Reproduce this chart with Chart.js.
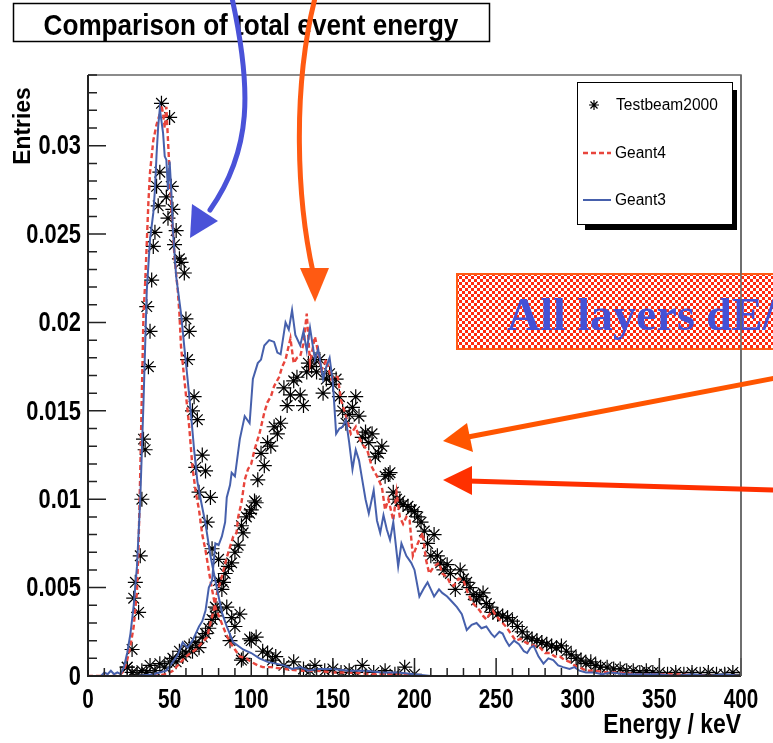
<!DOCTYPE html>
<html lang="en">
<head>
<meta charset="UTF-8">
<title>Comparison of total event energy</title>
<script src="https://cdn.jsdelivr.net/npm/chart.js"></script>
<style>
  html, body { margin: 0; padding: 0; background: #fff; }
  #wrap { position: relative; width: 773px; height: 743px; }
</style>
</head>
<body>
<div id="wrap"><canvas id="chart" width="773" height="743"></canvas></div>
<script>
  // [energy keV, entries]
  const testbeamNarrow = [
    [24,0.0005],[27,0.0015],[28,0.0044],[29,0.0053],[31,0.0036],[32,0.0068],[33,0.0100],[34,0.0134],[35,0.0128],
    [36,0.0209],[37,0.0175],[38,0.0195],[39,0.0224],[40,0.0243],[41,0.0251],[42,0.0277],[43,0.0266],[44,0.0285],
    [45,0.0324],[48,0.0271],[49,0.0259],[50,0.0316],[51,0.0277],[52,0.0264],[53,0.0244],[54,0.0252],[56,0.0236],
    [57,0.0234],[59,0.0228],[60,0.0202],[61,0.0179],[62,0.0195],[64,0.0150],[65,0.0158],[66,0.0118],[67,0.0145],
    [68,0.0104],[70,0.0125],[72,0.0116],[73,0.0087],[75,0.0101],[76,0.0072],[78,0.0039],[80,0.0066],[83,0.0053],
    [85,0.0039],[87,0.0020],[88,0.0033],[90,0.0028],[93,0.0035],[94,0.0009],[95,0.0010],[99,0.0021],[100,0.0020],
    [103,0.0022],[107,0.0014],[110,0.0013],[113,0.0009],[115,0.0011],[120,0.0006],[126,0.0008],[132,0.0004],
    [136,0.0003],[139,0.0006],[145,0.0003],[150,0.0004],[155,0.0002],[160,0.0003],[164,0.0002],[168,0.0006],
    [175,0.0002],[182,0.0003],[188,0.0001],[194,0.0005],[200,0.0001]
  ];
  const geant4Narrow = [
    [0,0],[18,0],[20,0.0001],[22,0.0003],[24,0.0009],[26,0.0017],[28,0.0028],[30,0.0048],[31,0.0075],[32,0.0115],
    [33,0.0160],[34,0.0205],[35,0.0222],[36,0.0245],[37,0.0268],[38,0.0285],[40,0.0303],[42,0.0312],[44,0.0318],
    [45,0.0323],[46,0.0318],[47,0.0310],[48,0.0322],[49,0.0303],[51,0.0266],[53,0.0237],[55,0.0218],[56,0.0205],
    [57,0.0186],[59,0.0168],[62,0.0141],[64,0.0118],[66,0.0104],[68,0.0094],[70,0.0080],[72,0.0071],[75,0.0054],
    [78,0.0039],[81,0.0032],[84,0.0025],[87,0.0019],[90,0.0015],[93,0.0011],[97,0.0010],[100,0.0008],[104,0.0006],
    [107,0.0005],[112,0.0005],[120,0.0004],[130,0.0003],[140,0.0003],[150,0.0002],[160,0.0002],[175,0.0001],
    [190,0.0001],[200,0]
  ];
  const geant3Narrow = [
    [0,0],[8,0],[10,0.0002],[12,0.0001],[14,0.0003],[16,0.0001],[18,0.0002],[20,0.0001],[22,0.0005],[24,0.0013],
    [26,0.0024],[28,0.0040],[30,0.0062],[32,0.0100],[34,0.0155],[36,0.0218],[38,0.0247],[40,0.0262],[41,0.0275],
    [42,0.0295],[43,0.0311],[44,0.0321],[46,0.0307],[47,0.0294],[48,0.0292],[49,0.0275],[50,0.0291],[51,0.0275],
    [52,0.0252],[54,0.0226],[57,0.0205],[59,0.0186],[61,0.0168],[63,0.0149],[65,0.0128],[67,0.0110],[69,0.0100],
    [72,0.0086],[75,0.0068],[78,0.0054],[82,0.0036],[85,0.0028],[89,0.0019],[95,0.0015],[100,0.0013],[105,0.0010],
    [110,0.0008],[115,0.0007],[120,0.0006],[125,0.0004],[130,0.0005],[135,0.0003],[140,0.0004],[150,0.0004],
    [160,0.0003],[170,0.0003],[180,0.0002],[190,0.0002],[200,0.0001],[210,0]
  ];

  const testbeamBroad = [
    [24,0.0005],[27,0.0002],[30,0.0001],[33,0.0003],[36,0.0002],[38,0.0006],[41,0.0003],[44,0.0007],[47,0.0005],
    [50,0.0008],[52,0.0010],[54,0.0008],[56,0.0014],[58,0.0011],[60,0.0013],[62,0.0017],[64,0.0014],[66,0.0019],
    [68,0.0016],[70,0.0022],[72,0.0024],[74,0.0027],[76,0.0032],[78,0.0034],[79,0.0038],[80,0.0054],[82,0.0049],
    [84,0.0058],[86,0.0062],[88,0.0064],[90,0.0070],[92,0.0074],[94,0.0085],[95,0.0081],[97,0.0090],[99,0.0092],
    [100,0.0094],[102,0.0099],[103,0.0098],[104,0.0111],[106,0.0126],[108,0.0119],[110,0.0132],[112,0.0130],
    [114,0.0141],[116,0.0137],[118,0.0143],[120,0.0163],[122,0.0153],[124,0.0159],[126,0.0167],[128,0.0169],
    [130,0.0159],[132,0.0153],[134,0.0172],[135,0.0177],[137,0.0175],[139,0.0179],[140,0.0172],[142,0.0179],
    [144,0.0160],[146,0.0168],[148,0.0171],[150,0.0165],[152,0.0168],[154,0.0158],[156,0.0150],[158,0.0143],
    [160,0.0148],[162,0.0152],[164,0.0158],[166,0.0147],[168,0.0135],[170,0.0138],[172,0.0132],[174,0.0137],
    [176,0.0124],[178,0.0126],[180,0.0130],[182,0.0113],[184,0.0114],[185,0.0115],[187,0.0104],[189,0.0100],
    [191,0.0099],[193,0.0097],[196,0.0096],[198,0.0094],[200,0.0093],[202,0.0090],[204,0.0087],[206,0.0082],
    [208,0.0075],[210,0.0068],[212,0.0080],[214,0.0068],[216,0.0064],[218,0.0060],[220,0.0063],[222,0.0058],
    [225,0.0049],[228,0.0060],[230,0.0055],[232,0.0053],[234,0.0050],[236,0.0046],[238,0.0043],[240,0.0045],
    [242,0.0047],[244,0.0041],[246,0.0039],[248,0.0036],[251,0.0035],[254,0.0034],[257,0.0033],[260,0.0031],
    [263,0.0028],[266,0.0025],[269,0.0022],[272,0.0021],[275,0.0020],[278,0.0019],[281,0.0018],[284,0.0017],
    [287,0.0016],[290,0.0017],[293,0.0014],[296,0.0012],[299,0.0010],[302,0.0009],[305,0.0007],[308,0.0008],
    [311,0.0006],[314,0.0005],[318,0.0005],[322,0.0004],[326,0.0004],[330,0.0003],[334,0.0003],[338,0.0002],
    [342,0.0003],[346,0.0002],[350,0.0002],[355,0.0001],[360,0.0002],[365,0.0001],[370,0.0002],[375,0.0001],
    [380,0.0002],[385,0.0001],[390,0.0001],[395,0.0002],[400,0.0001]
  ];
  const geant4Broad = [
    [40,0],[48,0.0001],[52,0.0003],[56,0.0007],[60,0.0011],[63,0.0013],[66,0.0015],[70,0.0019],[73,0.0022],
    [75,0.0030],[77,0.0037],[79,0.0047],[81,0.0053],[83,0.0060],[85,0.0067],[87,0.0073],[89,0.0079],[91,0.0081],
    [92,0.0090],[94,0.0098],[96,0.0111],[98,0.0117],[100,0.0120],[102,0.0128],[105,0.0137],[108,0.0149],
    [110,0.0155],[112,0.0158],[114,0.0164],[117,0.0169],[119,0.0175],[121,0.0179],[124,0.0191],[126,0.0177],
    [128,0.0180],[130,0.0181],[132,0.0188],[134,0.0205],[136,0.0177],[139,0.0192],[141,0.0183],[143,0.0173],
    [146,0.0179],[149,0.0168],[151,0.0170],[153,0.0169],[155,0.0156],[158,0.0147],[161,0.0137],[164,0.0141],
    [166,0.0135],[168,0.0131],[171,0.0128],[174,0.0118],[177,0.0113],[180,0.0107],[182,0.0094],[184,0.0100],
    [187,0.0088],[189,0.0104],[191,0.0090],[193,0.0086],[195,0.0090],[197,0.0088],[199,0.0068],[202,0.0075],
    [205,0.0081],[207,0.0066],[209,0.0058],[212,0.0062],[215,0.0064],[217,0.0058],[220,0.0056],[222,0.0052],
    [224,0.0051],[227,0.0055],[230,0.0054],[233,0.0046],[236,0.0041],[238,0.0039],[240,0.0037],[242,0.0034],
    [244,0.0032],[246,0.0035],[248,0.0037],[250,0.0034],[252,0.0032],[254,0.0030],[256,0.0028],[259,0.0024],
    [262,0.0020],[265,0.0021],[268,0.0019],[271,0.0018],[274,0.0017],[277,0.0016],[280,0.0013],[283,0.0013],
    [286,0.0011],[289,0.0011],[292,0.0009],[295,0.0008],[298,0.0006],[301,0.0005],[305,0.0003],[310,0.0003],
    [318,0.0002],[325,0.0002],[335,0.0001],[345,0.0001],[360,0.0001],[380,0],[400,0]
  ];
  const geant3Broad = [
    [30,0],[40,0.0001],[48,0.0003],[52,0.0008],[55,0.0012],[58,0.0019],[61,0.0016],[64,0.0020],[66,0.0024],
    [68,0.0028],[70,0.0031],[72,0.0037],[74,0.0050],[76,0.0054],[78,0.0075],[80,0.0074],[82,0.0079],[84,0.0087],
    [85,0.0101],[87,0.0108],[88,0.0115],[90,0.0113],[93,0.0134],[96,0.0147],[99,0.0143],[101,0.0168],[104,0.0177],
    [106,0.0179],[108,0.0187],[111,0.0190],[114,0.0189],[116,0.0183],[118,0.0182],[121,0.0200],[123,0.0196],
    [125,0.0207],[127,0.0193],[130,0.0187],[132,0.0195],[134,0.0184],[136,0.0197],[139,0.0179],[141,0.0185],
    [144,0.0168],[146,0.0175],[148,0.0180],[150,0.0166],[152,0.0137],[154,0.0140],[156,0.0141],[158,0.0145],
    [160,0.0132],[162,0.0117],[164,0.0128],[166,0.0122],[168,0.0111],[170,0.0100],[172,0.0092],[175,0.0105],
    [177,0.0088],[179,0.0081],[181,0.0091],[183,0.0083],[185,0.0077],[187,0.0087],[190,0.0062],[192,0.0075],
    [195,0.0068],[198,0.0064],[200,0.0060],[203,0.0045],[206,0.0050],[208,0.0053],[210,0.0049],[212,0.0045],
    [215,0.0049],[217,0.0047],[220,0.0045],[223,0.0042],[226,0.0039],[229,0.0035],[232,0.0026],[235,0.0029],
    [238,0.0030],[241,0.0027],[244,0.0028],[247,0.0024],[249,0.0022],[252,0.0025],[254,0.0024],[256,0.0020],
    [258,0.0017],[261,0.0020],[264,0.0018],[267,0.0014],[269,0.0013],[271,0.0016],[273,0.0017],[276,0.0011],
    [279,0.0007],[282,0.0010],[285,0.0009],[288,0.0006],[291,0.0005],[295,0.0004],[298,0.0005],[301,0.0003],
    [305,0.0002],[310,0.0002],[315,0.0001],[320,0.0002],[330,0.0001],[340,0.0001],[350,0.0001],[360,0],
    [370,0.0001],[380,0],[390,0.0001],[400,0]
  ];

  const xTickLabels = ['0', '50', '100', '150', '200', '250', '300', '350', '400'];
  const yTickLabels = ['0', '0.005', '0.01', '0.015', '0.02', '0.025', '0.03'];
  const legendNames = ['Testbeam2000', 'Geant4', 'Geant3'];

  const BLUE = '#4660ac';
  const RED = '#e8453c';
  const FONT = '"Liberation Sans", Arial, Helvetica, sans-serif';

  const toXY = arr => arr.map(p => ({ x: p[0], y: p[1] }));

  function lineSet(data, color, dash) {
    return {
      data: toXY(data), showLine: true, pointRadius: 0, borderWidth: dash ? 2.4 : 2,
      borderColor: color, borderDash: dash || [], tension: 0, fill: false
    };
  }
  function starSet(data) {
    return {
      data: toXY(data), showLine: false, pointStyle: 'star', pointRadius: 7.5,
      borderColor: '#000', backgroundColor: '#000', borderWidth: 1.2
    };
  }

  // condensed bold text (the original uses a narrow Helvetica)
  function ctext(ctx, txt, x, y, size, sx, align, base, weight) {
    ctx.save();
    ctx.font = `${weight || 'bold'} ${size}px ${FONT}`;
    ctx.textAlign = align;
    ctx.textBaseline = base;
    ctx.translate(x, y);
    ctx.scale(sx, 1);
    ctx.fillText(txt, 0, 0);
    ctx.restore();
  }

  function arrowHead(ctx, tip, a, b, color) {
    ctx.fillStyle = color;
    ctx.beginPath();
    ctx.moveTo(tip[0], tip[1]);
    ctx.lineTo(a[0], a[1]);
    ctx.lineTo(b[0], b[1]);
    ctx.closePath();
    ctx.fill();
  }

  function hatchPattern(ctx) {
    const c = document.createElement('canvas');
    c.width = 6; c.height = 6;
    const g = c.getContext('2d');
    g.fillStyle = '#ff2a10';
    g.fillRect(0, 0, 6, 6);
    g.fillStyle = '#ffffff';
    g.fillRect(0, 0, 3, 3);
    g.fillRect(3, 3, 3, 3);
    return ctx.createPattern(c, 'repeat');
  }

  const decor = {
    id: 'decor',
    afterDraw(chart) {
      const ctx = chart.ctx;
      const xs = chart.scales.x, ys = chart.scales.y;
      const L = xs.left, R = xs.right, T = ys.top, B = ys.bottom;

      // frame
      ctx.save();
      ctx.lineWidth = 1.5;
      ctx.strokeStyle = '#666';
      ctx.beginPath();
      ctx.moveTo(L, T); ctx.lineTo(R, T); ctx.lineTo(R, B);
      ctx.stroke();
      ctx.strokeStyle = '#222';
      ctx.lineWidth = 2;
      ctx.beginPath();
      ctx.moveTo(L, T); ctx.lineTo(L, B); ctx.lineTo(R, B);
      ctx.stroke();

      // inward ticks
      ctx.lineWidth = 1.5;
      ctx.strokeStyle = '#222';
      ctx.beginPath();
      for (let i = 0; i <= 34; i++) {
        const py = ys.getPixelForValue(i / 1000);
        const len = i % 5 === 0 ? 18 : 9;
        ctx.moveTo(L, py); ctx.lineTo(L + len, py);
      }
      for (let i = 0; i <= 40; i++) {
        const px = xs.getPixelForValue(i * 10);
        const len = i % 5 === 0 ? 18 : 8;
        ctx.moveTo(px, B); ctx.lineTo(px, B - len);
      }
      ctx.stroke();

      // tick labels
      ctx.fillStyle = '#000';
      yTickLabels.forEach(t => {
        ctext(ctx, t, L - 7, ys.getPixelForValue(parseFloat(t)) + 1, 28, 0.78, 'right', 'middle');
      });
      xTickLabels.forEach(t => {
        ctext(ctx, t, xs.getPixelForValue(parseFloat(t)), B + 10, 28, 0.74, 'center', 'top');
      });

      // axis titles
      ctext(ctx, 'Energy / keV', R, 733, 27, 0.85, 'right', 'alphabetic');
      ctx.save();
      ctx.translate(30, 126);
      ctx.rotate(-Math.PI / 2);
      ctext(ctx, 'Entries', 0, 0, 24, 0.95, 'center', 'alphabetic');
      ctx.restore();

      // legend box with shadow
      ctx.fillStyle = '#000';
      ctx.fillRect(585, 90, 152, 140);
      ctx.fillStyle = '#fff';
      ctx.fillRect(577, 82, 156, 143);
      ctx.strokeStyle = '#000';
      ctx.lineWidth = 1;
      ctx.strokeRect(577.5, 82.5, 155, 142);
      // marker
      ctx.lineWidth = 1.2;
      ctx.beginPath();
      const sx0 = 594, sy0 = 105, r = 5;
      for (let k = 0; k < 4; k++) {
        const a = k * Math.PI / 4;
        ctx.moveTo(sx0 - r * Math.cos(a), sy0 - r * Math.sin(a));
        ctx.lineTo(sx0 + r * Math.cos(a), sy0 + r * Math.sin(a));
      }
      ctx.stroke();
      ctx.lineWidth = 2.4;
      ctx.strokeStyle = RED;
      ctx.setLineDash([5, 3]);
      ctx.beginPath(); ctx.moveTo(583, 153); ctx.lineTo(611, 153); ctx.stroke();
      ctx.setLineDash([]);
      ctx.strokeStyle = BLUE;
      ctx.lineWidth = 2;
      ctx.beginPath(); ctx.moveTo(583, 200); ctx.lineTo(611, 200); ctx.stroke();
      ctx.fillStyle = '#000';
      ctext(ctx, legendNames[0], 616, 110, 16, 0.97, 'left', 'alphabetic', 'normal');
      ctext(ctx, legendNames[1], 615, 158, 16, 0.97, 'left', 'alphabetic', 'normal');
      ctext(ctx, legendNames[2], 615, 205, 16, 0.97, 'left', 'alphabetic', 'normal');

      // title box
      ctx.fillStyle = '#fff';
      ctx.fillRect(13, 3, 477, 39);
      ctx.strokeStyle = '#000';
      ctx.lineWidth = 1.5;
      ctx.strokeRect(13.5, 3.5, 476, 38);
      ctx.fillStyle = '#000';
      ctext(ctx, 'Comparison of total event energy', 251, 35, 29, 0.9, 'center', 'alphabetic');

      // hatched label box
      ctx.fillStyle = hatchPattern(ctx);
      ctx.fillRect(456, 273, 320, 77);
      ctx.strokeStyle = '#ff5a14';
      ctx.lineWidth = 2;
      ctx.strokeRect(457, 274, 320, 75);
      ctx.save();
      ctx.font = 'bold 46px "Liberation Serif", "Times New Roman", serif';
      ctx.fillStyle = '#4451d6';
      ctx.textAlign = 'left';
      ctx.textBaseline = 'alphabetic';
      ctx.fillText('All layers dE/dx', 507, 330);
      ctx.restore();

      // frame line on top of the box
      ctx.strokeStyle = '#666';
      ctx.lineWidth = 1.5;
      ctx.beginPath(); ctx.moveTo(R, T); ctx.lineTo(R, B); ctx.stroke();

      // arrows
      ctx.lineCap = 'round';
      ctx.lineWidth = 5;
      ctx.strokeStyle = '#4a52d8';
      ctx.beginPath();
      ctx.moveTo(232, -2);
      ctx.bezierCurveTo(252, 90, 252, 150, 210, 210);
      ctx.stroke();
      arrowHead(ctx, [190, 238], [192, 204], [218, 221], '#4a52d8');

      ctx.strokeStyle = '#ff5a12';
      ctx.beginPath();
      ctx.moveTo(315, -2);
      ctx.bezierCurveTo(292, 90, 297, 200, 313, 272);
      ctx.stroke();
      arrowHead(ctx, [315, 302], [300, 268], [329, 268], '#ff5a12');

      ctx.strokeStyle = '#ff5500';
      ctx.beginPath(); ctx.moveTo(776, 378); ctx.lineTo(468, 437); ctx.stroke();
      arrowHead(ctx, [443, 441], [467, 423], [473, 452], '#ff5500');

      ctx.strokeStyle = '#ff3000';
      ctx.beginPath(); ctx.moveTo(776, 490); ctx.lineTo(468, 481); ctx.stroke();
      arrowHead(ctx, [443, 480], [472, 466], [472, 495], '#ff3000');
      ctx.restore();
    }
  };

  new Chart(document.getElementById('chart'), {
    type: 'scatter',
    data: {
      datasets: [
        lineSet(geant3Narrow, BLUE),
        lineSet(geant3Broad, BLUE),
        lineSet(geant4Narrow, RED, [5, 3]),
        lineSet(geant4Broad, RED, [5, 3]),
        starSet(testbeamNarrow),
        starSet(testbeamBroad)
      ]
    },
    options: {
      responsive: false,
      animation: false,
      events: [],
      layout: { padding: { left: 0, right: 32, top: 75, bottom: 0 } },
      plugins: { legend: { display: false }, tooltip: { enabled: false }, title: { display: false } },
      scales: {
        x: {
          type: 'linear', min: 0, max: 400,
          grid: { display: false, drawTicks: false }, border: { display: false },
          ticks: { display: false },
          afterFit: s => { s.height = 67; }
        },
        y: {
          type: 'linear', min: 0, max: 0.034,
          grid: { display: false, drawTicks: false }, border: { display: false },
          ticks: { display: false },
          afterFit: s => { s.width = 88; }
        }
      }
    },
    plugins: [decor]
  });
</script>
</body>
</html>
